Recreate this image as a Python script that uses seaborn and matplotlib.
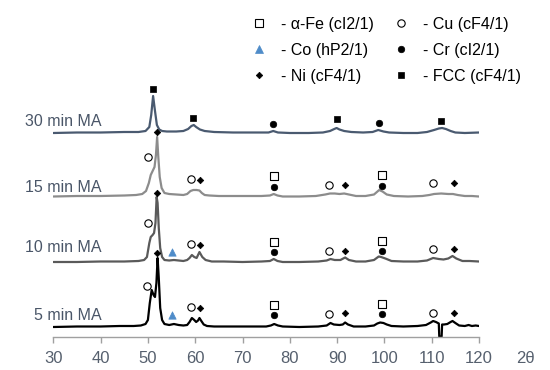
import numpy as np
import pandas as pd
import matplotlib
matplotlib.use("Agg")
import matplotlib.pyplot as plt
from matplotlib.lines import Line2D
import seaborn as sns

# ---- XRD patterns (2theta, intensity a.u.) ----
tt_5 = [30, 35, 40, 44, 47, 48.5, 49.5, 50.0, 50.4, 50.8, 51.2, 51.5, 51.8, 52.05, 52.3, 52.6, 53.0, 53.5,
        54.5, 55.5, 56.5, 57.5, 58.3, 58.8, 59.3, 59.8, 60.2, 60.6, 60.9, 61.3, 61.8, 62.5, 64, 68, 72, 75,
        76, 76.7, 77.5, 78.5, 82, 86, 87.8, 88.6, 89.3, 90.5, 91.2, 91.7, 92.3, 93.5, 96, 97.8, 98.5, 99.1,
        99.8, 100.5, 101.5, 104, 107, 108.8, 109.8, 110.3, 110.9, 111.5, 111.6, 112.1, 112.2, 112.6, 113.3,
        114.0, 114.4, 115.0, 115.8, 117, 117.8, 118.5, 119.3, 120]
int_5 = [1, 1.5, 1.5, 2, 2, 2.5, 4, 8, 25, 38, 33, 31, 45, 70, 50, 20, 8, 4,
         3, 4, 3, 2.5, 3, 6, 10, 8, 6, 7.5, 10, 7, 3.5, 2, 1.5, 1.5, 1.5, 1.5,
         2.5, 4, 2.5, 1.5, 1, 1.5, 2.5, 5, 3.5, 3, 3.5, 5.5, 3.5, 1.5, 1.5, 2.5, 4.5, 5.5,
         5, 3.5, 2, 1.5, 2, 3, 5.5, 7, 6, 4.5, -8.5, -8.5, 3.5, 3.5, 4,
         6, 7, 5, 2.5, 2, 3, 2, 2.5, 2]

tt_10 = [30, 35, 40, 45, 48, 49.2, 49.8, 50.3, 50.6, 51.0, 51.3, 51.6, 51.85, 52.05, 52.3, 52.6, 53.0, 53.5,
         54.5, 55.5, 56.5, 57.5, 58.3, 58.8, 59.3, 59.8, 60.3, 60.9, 61.5, 62.2, 63.5, 66, 70, 74, 75.8, 76.6,
         77.4, 78.5, 82, 86, 87.8, 88.6, 89.5, 90.7, 91.7, 92.5, 94, 96, 97.8, 98.8, 99.3, 100.2, 101.5, 104,
         107, 109, 110.3, 111.5, 112.5, 113.5, 114.4, 115.2, 116.5, 118, 120]
int_10 = [1, 1, 1.5, 1.5, 2, 3, 6, 20, 26, 28, 30, 40, 66, 60, 35, 15, 6, 3,
          2.5, 3, 2.5, 2, 3, 5, 8, 6, 5, 11, 6, 3, 1.5, 1.5, 1, 1.5, 2, 4,
          2, 1, 1, 1.5, 2.5, 4, 3, 3, 5.5, 3, 1.5, 1.5, 3, 6.5, 6, 4.5, 2, 1.5,
          1.5, 2.5, 5, 4, 3.5, 4.5, 7, 4.5, 2, 2, 1.5]

tt_15 = [30, 35, 40, 45, 47.5, 48.8, 49.6, 50.2, 50.6, 51.0, 51.4, 51.7, 51.95, 52.2, 52.5, 52.9, 53.5, 54.5,
         56, 57.5, 58.3, 59.0, 59.6, 60.3, 60.9, 61.4, 62.0, 63, 65, 70, 74, 75.8, 76.6, 77.4, 78.5, 82,
         85.5, 87.5, 88.5, 89.5, 90.5, 91.5, 92.5, 94, 96, 97.8, 98.9, 99.6, 100.5, 102, 105, 108, 109.5,
         110.5, 112, 113.5, 114.5, 115.5, 117, 118.5, 120]
int_15 = [0.5, 1, 1, 1.5, 2, 3, 6, 14, 22, 26, 30, 42, 60, 40, 20, 9, 4, 3,
          2.5, 2, 3, 6, 7, 7, 6.5, 4, 2, 1.5, 1, 1, 1, 1.5, 3, 1.5, 0.5, 0.5,
          1, 2.5, 3.5, 3.5, 3, 3.5, 2.5, 1, 1, 2.5, 7, 5.5, 2.5, 1, 0.5, 1, 2,
          3, 3.5, 3, 3, 2, 1, 1, 0.5]

tt_30 = [30, 35, 40, 45, 48, 49.5, 50.3, 50.7, 51.1, 51.5, 51.9, 52.4, 53, 54, 56, 57.5, 58.5, 59.2,
         59.7, 60.2, 61, 62, 64, 68, 72, 75.5, 76.5, 77.5, 80, 84, 87, 88.5, 89.4, 89.9, 90.5, 91.5,
         93, 95.5, 97.5, 98.7, 99.8, 101, 104, 107, 109, 110.5, 111.5, 112.2, 113.0, 114, 115, 117, 120]
int_30 = [0, 0.5, 0.5, 1, 1, 2, 6, 18, 37, 22, 8, 3.5, 2, 1.5, 1.5, 2, 4, 7,
          8, 6, 3.5, 2, 1, 0.5, 0.5, 0.5, 2, 0.5, 0, 0, 0.5, 2, 4, 5, 3.5, 2,
          1, 0.5, 1, 3, 1.5, 0.5, 0, 0, 1, 3, 4.5, 5, 4, 2, 0.5, 0, 0.5]

samples = ["5 min MA", "10 min MA", "15 min MA", "30 min MA"]
offsets = [0, 65, 131, 195]
line_colors = ["#000000", "#5a5a5a", "#8c8c8c", "#4a5a70"]
label_y = [13, 80, 141, 206]

# ---- phase markers: (2theta, height in same units) ----
fcc_tt = [51.1, 59.6, 89.9, 112.0]
fcc_y = [239, 210, 209, 207]
cr_tt = [76.5, 98.9, 76.7, 99.4, 76.7, 99.4, 76.7, 99.4]
cr_y = [204, 205, 141, 142, 76, 77, 13, 14]
ni_tt = [52.0, 61.0, 91.7, 114.8, 52.0, 61.0, 91.7, 114.8, 52.0, 61.0, 91.7, 114.8]
ni_y = [196, 148, 143, 145, 135, 83, 77, 79, 75, 20, 15, 15]
cu_tt = [50.1, 59.05, 88.35, 110.3, 50.1, 59.1, 88.35, 110.3, 49.9, 59.1, 88.35, 110.3]
cu_y = [171, 149, 143, 145, 105, 84, 77, 79, 42, 21, 14, 15]
fe_tt = [76.7, 99.4, 76.7, 99.4, 76.7, 99.4]
fe_y = [152, 153, 86, 87, 23, 24]
co_tt = [55.2, 55.2]
co_y = [76, 13]

phases = ["- α-Fe (cI2/1)", "- Co (hP2/1)", "- Ni (cF4/1)",
          "- Cu (cF4/1)", "- Cr (cI2/1)", "- FCC (cF4/1)"]

sns.set_style("white")
plt.rcParams["font.family"] = ["Liberation Sans", "DejaVu Sans"]

fig = plt.figure(figsize=(5.5, 3.7), dpi=100)
ax = fig.add_axes([53.3 / 550, 33.3 / 370, 425.7 / 550, 336 / 370])

for name, tt, yy, off, col in zip(samples, [tt_5, tt_10, tt_15, tt_30],
                                   [int_5, int_10, int_15, int_30], offsets, line_colors):
    df = pd.DataFrame({"tt": tt, "I": np.array(yy) + off})
    sns.lineplot(data=df, x="tt", y="I", ax=ax, color=col, linewidth=1.6,
                 estimator=None, sort=False, legend=False)

txt_col = "#4a5668"
for name, ly in zip(samples, label_y):
    ax.text(40.2, ly, name, ha="right", va="center", fontsize=11.5, color=txt_col)

blue = "#4f8cc9"
styles = {
    "- α-Fe (cI2/1)": dict(x=fe_tt, y=fe_y, marker="s", s=26, facecolor="white", edgecolor="black", linewidth=0.8),
    "- Co (hP2/1)": dict(x=co_tt, y=co_y, marker="^", s=28, facecolor=blue, edgecolor=blue, linewidth=0.5),
    "- Ni (cF4/1)": dict(x=ni_tt, y=ni_y, marker="D", s=11, facecolor="black", edgecolor="black", linewidth=0.5),
    "- Cu (cF4/1)": dict(x=cu_tt, y=cu_y, marker="o", s=28, facecolor="white", edgecolor="black", linewidth=0.8),
    "- Cr (cI2/1)": dict(x=cr_tt, y=cr_y, marker="o", s=22, facecolor="black", edgecolor="black", linewidth=0.5),
    "- FCC (cF4/1)": dict(x=fcc_tt, y=fcc_y, marker="s", s=20, facecolor="black", edgecolor="black", linewidth=0.5),
}
handles = []
for ph in phases:
    st = styles[ph]
    sns.scatterplot(x=st["x"], y=st["y"], ax=ax, marker=st["marker"], s=st["s"],
                    facecolor=st["facecolor"], edgecolor=st["edgecolor"],
                    linewidth=st["linewidth"], zorder=5, legend=False)
    handles.append(Line2D([], [], linestyle="none", marker=st["marker"],
                          markersize=np.sqrt(st["s"]), markerfacecolor=st["facecolor"],
                          markeredgecolor=st["edgecolor"], markeredgewidth=st["linewidth"],
                          label=ph))

ax.legend(handles=handles, ncol=2, loc="upper left", bbox_to_anchor=(251 / 550, 1 - 17 / 370),
          bbox_transform=fig.transFigure, frameon=False, fontsize=11.5, handlelength=1.0,
          handletextpad=0.85, columnspacing=1.25, labelspacing=0.68, borderpad=0, borderaxespad=0,
          labelcolor="black")

ax.set_xlim(30, 120)
ax.set_ylim(-8.7, 327.3)
ax.set_xticks(range(30, 121, 10))
ax.set_yticks([])
ax.set_xlabel("")
ax.set_ylabel("")
for sp in ["top", "right", "left"]:
    ax.spines[sp].set_visible(False)
ax.spines["bottom"].set_color("#a0a0a0")
ax.spines["bottom"].set_linewidth(1.0)
ax.tick_params(axis="x", direction="out", length=4, width=1, color="#a0a0a0",
               labelsize=12, labelcolor="#56606e", pad=6, bottom=True)
ax.text(1.108, -0.065, "2θ", transform=ax.transAxes, ha="center", va="center",
        fontsize=12, color="#56606e")
ax.patch.set_alpha(0)

fig.savefig("out.png", dpi=100)
